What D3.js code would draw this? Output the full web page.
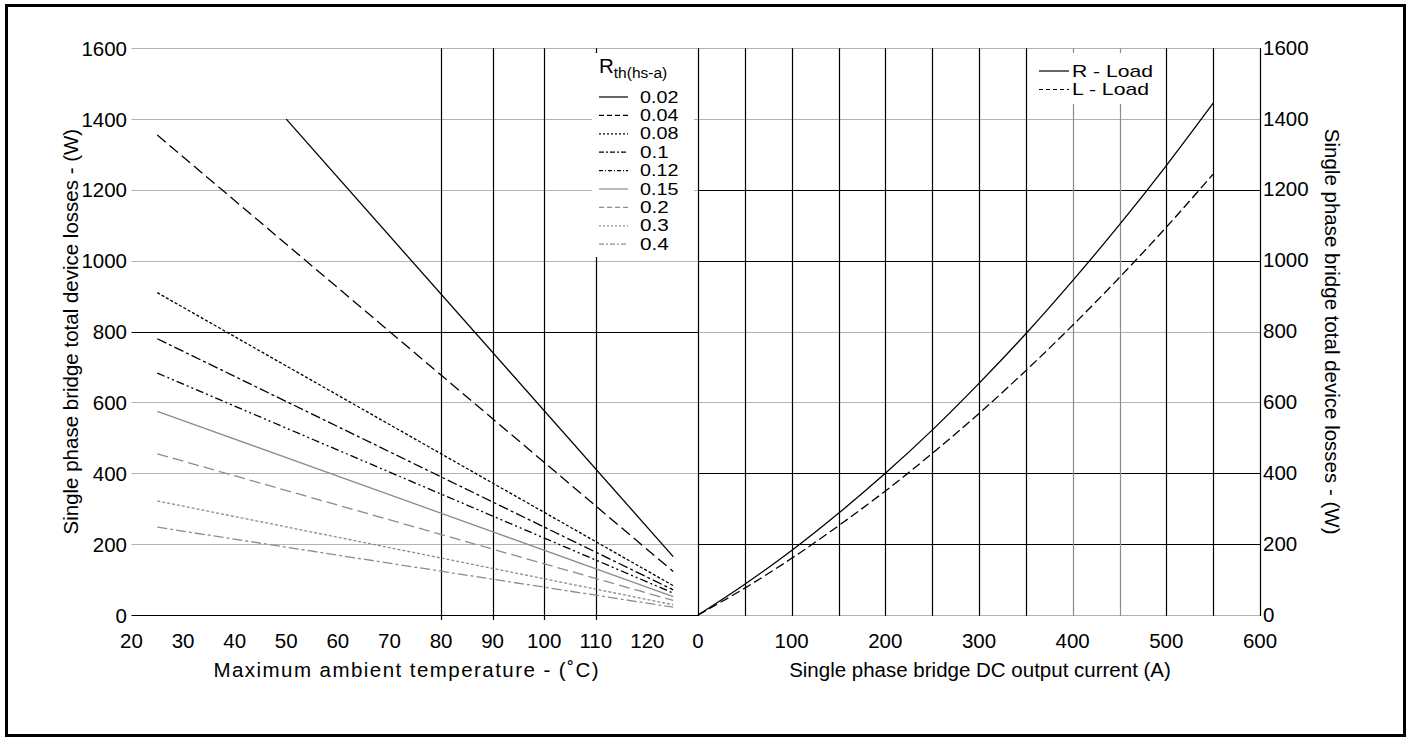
<!DOCTYPE html>
<html>
<head>
<meta charset="utf-8">
<script src="https://cdn.jsdelivr.net/npm/d3@7"></script>
<style>
  body { margin: 0; background: #fff; }
  text { font-family: "Liberation Sans", Arial, sans-serif; fill: #000; }
</style>
</head>
<body>
<div id="chart"></div>
<script>
// ---- data ----
// left panel: losses vs ambient temperature, one straight line per Rth(hs-a)
var rthLabels = ["0.02", "0.04", "0.08", "0.1", "0.12", "0.15", "0.2", "0.3", "0.4"];
var rthStartT = [50, 25, 25, 25, 25, 25, 25, 25, 25];
var rthStartP = [1400, 1355, 910, 780, 683, 575, 455, 322, 248];
var rthEndT = [125, 125, 125, 125, 125, 125, 125, 125, 125];
var rthEndP = [165, 123, 83, 71, 62, 52, 41, 29, 22];

// right panel: losses vs DC output current
var currentA = [0, 50, 100, 150, 200, 250, 300, 350, 400, 450, 500, 550];
var rLoad = [0, 87, 182, 287, 400, 522, 654, 794, 944, 1102, 1269, 1445];
var lLoad = [0, 76, 160, 252, 350, 456, 569, 690, 818, 953, 1095, 1245];

var tempTicks = [20, 30, 40, 50, 60, 70, 80, 90, 100, 110, 120];
var currentTicks = [0, 100, 200, 300, 400, 500, 600];
var lossTicks = [0, 200, 400, 600, 800, 1000, 1200, 1400, 1600];

// line styles for the Rth series
var rthColor = ["#000", "#000", "#000", "#000", "#000", "#8c8c8c", "#8c8c8c", "#8c8c8c", "#8c8c8c"];
var rthDash = ["none", "11,5", "3,2", "10,3,3,3", "8,3,2,3,2,3", "none", "11,5", "3,2", "10,3,3,3"];
var rthLegendDash = ["none", "5,3", "2,2", "5,2,2,2", "4,2,1,2", "none", "5,3", "2,2", "5,2,2,2"];

var W = 1414, H = 738;
var fs = 20.5;
var legFs = 17;
var gridGray = "#b3b3b3";

var svg = d3.select("#chart")
    .append("svg")
    .attr("width", W)
    .attr("height", H);

// outer frame
svg.append("rect")
    .attr("x", 6.5).attr("y", 5.5)
    .attr("width", 1398).attr("height", 730)
    .attr("fill", "none")
    .attr("stroke", "#000")
    .attr("stroke-width", 3);

// scales
var y = d3.scaleLinear().domain([0, 1600]).range([615, 48.3]);
var xT = d3.scaleLinear().domain([20, 130]).range([131.5, 699]);
var xI = d3.scaleLinear().domain([0, 600]).range([698, 1260]);

var grid = svg.append("g");

// left horizontal gridlines
lossTicks.forEach(function(v) {
    grid.append("line")
        .attr("x1", xT(20)).attr("x2", xI(0))
        .attr("y1", Math.round(y(v)) + 0.5).attr("y2", Math.round(y(v)) + 0.5)
        .attr("stroke", (v == 800 || v == 0) ? "#000" : gridGray)
        .attr("stroke-width", 1.2);
});
// right horizontal gridlines
var rightBlack = [200, 400, 1000, 1200];
lossTicks.forEach(function(v) {
    grid.append("line")
        .attr("x1", xI(0)).attr("x2", xI(600))
        .attr("y1", Math.round(y(v)) + 0.5).attr("y2", Math.round(y(v)) + 0.5)
        .attr("stroke", rightBlack.indexOf(v) >= 0 ? "#000" : gridGray)
        .attr("stroke-width", 1.2);
});
// left vertical gridlines (only the hot end is gridded)
[80, 90, 100, 110].forEach(function(t) {
    grid.append("line")
        .attr("x1", Math.round(xT(t)) + 0.5).attr("x2", Math.round(xT(t)) + 0.5)
        .attr("y1", y(1600)).attr("y2", y(0) + 5)
        .attr("stroke", "#000")
        .attr("stroke-width", 1.2);
});
// right vertical gridlines every 50 A
d3.range(0, 601, 50).forEach(function(a) {
    var grayOnes = [400, 450];
    grid.append("line")
        .attr("x1", Math.round(xI(a)) + 0.5).attr("x2", Math.round(xI(a)) + 0.5)
        .attr("y1", y(1600)).attr("y2", y(0) + 1)
        .attr("stroke", grayOnes.indexOf(a) >= 0 ? "#8c8c8c" : "#000")
        .attr("stroke-width", 1.2);
});

// legend backgrounds hide the grid behind them
svg.append("rect").attr("x", 592).attr("y", 53).attr("width", 102).attr("height", 204).attr("fill", "#fff");
svg.append("rect").attr("x", 1035).attr("y", 53).attr("width", 128).attr("height", 51).attr("fill", "#fff");

// left panel lines
var plotL = svg.append("g");
rthLabels.forEach(function(lab, i) {
    plotL.append("line")
        .attr("x1", xT(rthStartT[i])).attr("y1", y(rthStartP[i]))
        .attr("x2", xT(rthEndT[i])).attr("y2", y(rthEndP[i]))
        .attr("stroke", rthColor[i])
        .attr("stroke-width", 1.3)
        .attr("stroke-dasharray", rthDash[i]);
});

// right panel curves
var lineI = d3.line()
    .x(function(d) { return xI(d[0]); })
    .y(function(d) { return y(d[1]); })
    .curve(d3.curveMonotoneX);

svg.append("path")
    .datum(currentA.map(function(a, i) { return [a, rLoad[i]]; }))
    .attr("d", lineI)
    .attr("fill", "none")
    .attr("stroke", "#000")
    .attr("stroke-width", 1.3);

svg.append("path")
    .datum(currentA.map(function(a, i) { return [a, lLoad[i]]; }))
    .attr("d", lineI)
    .attr("fill", "none")
    .attr("stroke", "#000")
    .attr("stroke-width", 1.3)
    .attr("stroke-dasharray", "9,4");

// tick labels
var labels = svg.append("g").style("font-size", fs + "px");

lossTicks.forEach(function(v) {
    labels.append("text")
        .attr("x", 127).attr("y", y(v))
        .attr("text-anchor", "end")
        .attr("dominant-baseline", "central")
        .text(v);
    labels.append("text")
        .attr("x", 1263).attr("y", y(v) - 1)
        .attr("text-anchor", "start")
        .attr("dominant-baseline", "central")
        .text(v);
});
tempTicks.forEach(function(t) {
    labels.append("text")
        .attr("x", xT(t)).attr("y", 640)
        .attr("text-anchor", "middle")
        .attr("dominant-baseline", "central")
        .text(t);
});
currentTicks.forEach(function(a) {
    labels.append("text")
        .attr("x", xI(a)).attr("y", 640)
        .attr("text-anchor", "middle")
        .attr("dominant-baseline", "central")
        .text(a);
});

// axis titles
labels.append("text")
    .attr("x", 406).attr("y", 669)
    .attr("text-anchor", "middle")
    .attr("dominant-baseline", "central")
    .attr("textLength", 385)
    .attr("lengthAdjust", "spacing")
    .text("Maximum ambient temperature - (\u02DAC)");
labels.append("text")
    .attr("x", 980).attr("y", 669)
    .attr("text-anchor", "middle")
    .attr("dominant-baseline", "central")
    .text("Single phase bridge DC output current (A)");
labels.append("text")
    .attr("transform", "translate(70," + y(800) + ") rotate(-90)")
    .attr("text-anchor", "middle")
    .attr("dominant-baseline", "central")
    .text("Single phase bridge total device losses - (W)");
labels.append("text")
    .attr("transform", "translate(1332," + y(800) + ") rotate(90)")
    .attr("text-anchor", "middle")
    .attr("dominant-baseline", "central")
    .text("Single phase bridge total device losses - (W)");

// Rth legend
var legL = svg.append("g");
var legTitle = legL.append("text").attr("x", 599).attr("y", 73).style("font-size", fs + "px");
legTitle.append("tspan").text("R");
legTitle.append("tspan").attr("dy", 5).style("font-size", "15.5px").text("th(hs-a)");

rthLabels.forEach(function(lab, i) {
    var ly = 97 + i * 18.4;
    legL.append("line")
        .attr("x1", 599).attr("x2", 628)
        .attr("y1", ly).attr("y2", ly)
        .attr("stroke", rthColor[i])
        .attr("stroke-width", 1.2)
        .attr("stroke-dasharray", rthLegendDash[i]);
    legL.append("text")
        .attr("x", 640).attr("y", ly)
        .attr("dominant-baseline", "central")
        .style("font-size", legFs + "px")
        .attr("textLength", lab.length * 9.6)
        .attr("lengthAdjust", "spacingAndGlyphs")
        .text(lab);
});

// load legend
var loadNames = ["R - Load", "L - Load"];
var loadWidths = [81, 77];
var loadDash = ["none", "4,3"];
loadNames.forEach(function(name, i) {
    var ly = 71 + i * 18.5;
    svg.append("line")
        .attr("x1", 1039).attr("x2", 1069)
        .attr("y1", ly).attr("y2", ly)
        .attr("stroke", "#000")
        .attr("stroke-width", 1.2)
        .attr("stroke-dasharray", loadDash[i]);
    svg.append("text")
        .attr("x", 1072).attr("y", ly)
        .attr("dominant-baseline", "central")
        .style("font-size", legFs + "px")
        .attr("textLength", loadWidths[i])
        .attr("lengthAdjust", "spacingAndGlyphs")
        .text(name);
});
</script>
</body>
</html>
